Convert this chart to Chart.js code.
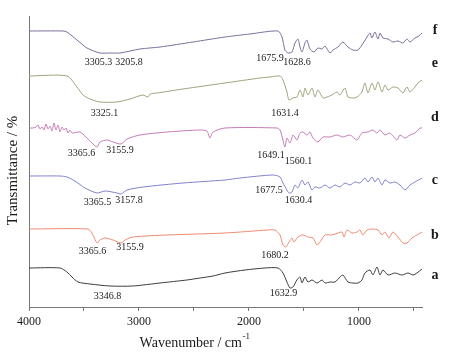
<!DOCTYPE html>
<html><head><meta charset="utf-8">
<script src="https://cdn.jsdelivr.net/npm/chart.js@4"></script>
<style>html,body{margin:0;padding:0;background:#fff}#wrap{width:450px;height:357px;position:relative}</style>
</head><body><div id="wrap"><canvas id="c"></canvas></div>
<script>
const seriesNames = ['a','b','c','d','e','f'];
const seriesColors = ['#3c3c3c','#ee8a70','#8080cc','#c47ab6','#9ea37c','#7d6e9c'];

const aWn = [4000,3718,3655,3609,3555,3445,3264,3055,2809,2564,2445,2327,2218,2036,1855,1736,1691,1655,1627,1600,1564,1536,1518,1491,1464,1427,1382,1336,1309,1264,1218,1173,1146,1100,1055,1009,973,946,900,873,836,809,782,736,673,609,555,509,473,427];
const aT  = [39,39,35,30,25,23,21,21,24,27,29,31,34,37,39,39,34,25,19,20,27,30,24,30,25,27,24,27,24,25,25,30,32,25,24,24,27,34,37,32,40,32,37,32,34,32,34,32,34,38];

const bWn = [4000,3464,3427,3382,3355,3309,3236,3164,3127,3055,2745,2218,1827,1764,1718,1691,1664,1636,1609,1591,1555,1509,1464,1418,1382,1355,1309,1246,1191,1155,1136,1109,1064,1018,991,964,927,873,827,791,764,727,691,645,600,564,518,473,427];
const bT  = [78,78,74,64,67,69,67,64,67,70,72,74,77,77,72,62,60,65,69,65,70,72,70,69,62,65,72,72,74,75,70,77,74,75,77,72,77,78,77,72,75,69,75,70,64,64,69,72,75];

const cWn = [4000,3718,3655,3582,3491,3382,3309,3200,3164,3109,2964,2600,2218,2082,1782,1718,1691,1655,1636,1609,1582,1555,1518,1491,1464,1427,1400,1355,1309,1264,1218,1173,1127,1082,1036,991,946,918,882,855,827,791,764,718,673,627,582,536,491,427];
const cT  = [131,131,130,126,119,114,116,114,113,117,120,124,127,129,132,130,124,117,114,115,122,119,127,122,125,117,120,119,122,119,122,120,124,122,125,124,129,125,130,125,129,122,127,124,125,122,117,122,125,129];

const dWn = [4000,3964,3936,3918,3900,3882,3864,3845,3827,3809,3791,3773,3755,3736,3718,3700,3682,3664,3645,3627,3609,3536,3455,3382,3355,3291,3236,3164,3109,2991,2745,2445,2382,2355,2327,2218,1745,1718,1691,1673,1655,1627,1600,1564,1536,1509,1473,1446,1418,1373,1327,1264,1200,1146,1082,1018,973,918,873,836,809,764,718,655,627,582,536,491,445,427];
const dT  = [179,179,180,182,178,180,177,183,178,181,176,184,177,182,175,180,177,179,174,177,174,175,167,160,165,167,165,163,168,172,175,177,176,169,175,179,179,177,167,160,169,164,172,167,174,175,172,175,169,165,170,170,172,170,172,167,174,175,177,174,177,172,174,167,172,169,172,174,179,179];

const eWn = [4000,3655,3564,3509,3445,3355,3200,3082,2964,2918,2900,2836,2600,2218,1900,1809,1718,1691,1655,1636,1600,1564,1536,1509,1491,1464,1427,1400,1373,1327,1291,1246,1200,1173,1127,1100,1055,1018,973,946,918,882,855,827,791,764,736,691,645,600,564,536,491,464,427];
const eT  = [231,231,220,212,208,205,205,208,212,210,213,214,218,224,229,230,231,227,215,207,209,210,217,210,219,212,219,210,217,209,210,212,215,212,219,210,209,210,215,224,214,224,217,225,215,222,217,220,219,214,220,215,220,224,227];

const fWn = [4000,3690,3655,3564,3473,3355,3264,3173,2991,2809,2509,2218,1991,1736,1700,1673,1645,1609,1582,1555,1536,1518,1491,1473,1446,1409,1373,1336,1309,1264,1236,1191,1146,1100,1055,1009,973,927,900,882,855,827,809,782,736,691,645,600,564,536,491,455,427];
const fT  = [276,276,275,267,259,254,254,254,258,260,265,270,273,276,270,257,254,255,264,268,260,255,264,267,258,255,259,258,261,254,257,260,265,260,257,257,262,270,274,269,275,268,274,269,268,265,266,264,268,265,269,271,274];

const xTickValues = [4000,3500,3000,2500,2000,1500,1000,500];
const xTickLabels = ['4000','','3000','','2000','','1000',''];

const peakText = ['3305.3','3205.8','1675.9','1628.6','3325.1','1631.4','3365.6','3155.9','1649.1','1560.1','3365.5','3157.8','1677.5','1630.4','3365.6','3155.9','1680.2','3346.8','1632.9'];
const peakWn   = [3368,3091,1809,1564,3314,1673,3523,3173,1800,1550,3377,3091,1818,1550,3423,3082,1764,3286,1687];
const peakT    = [245,245,249,245,194,194,154,157,152,146,105,107,117,107,56,60,52,11,14];

const nameWn = 309;
const nameT = [32,72,127,190,244,277];

const allWn = [aWn,bWn,cWn,dWn,eWn,fWn];
const allT = [aT,bT,cT,dT,eT,fT];

const SERIF = '"Liberation Serif","Times New Roman",serif';

const datasets = seriesNames.map((n,i)=>({
  label: n,
  data: allWn[i].map((w,j)=>({x:w, y:allT[i][j]})),
  borderColor: seriesColors[i],
  borderWidth: 1,
  pointRadius: 0,
  tension: 0.25,
  fill: false
}));

const textPlugin = {
  id: 'texts',
  afterDraw(chart){
    const {ctx, scales:{x,y}, chartArea} = chart;
    ctx.save();
    ctx.fillStyle = '#1a1a1a';
    ctx.textAlign = 'center';
    ctx.textBaseline = 'middle';
    ctx.font = '10px ' + SERIF;
    peakText.forEach((t,i)=>ctx.fillText(t, x.getPixelForValue(peakWn[i]), y.getPixelForValue(peakT[i])));
    ctx.font = 'bold 14px ' + SERIF;
    seriesNames.forEach((n,i)=>ctx.fillText(n, x.getPixelForValue(nameWn), y.getPixelForValue(nameT[i])));
    // x title
    ctx.font = '14px ' + SERIF;
    ctx.textAlign = 'left';
    const main = 'Wavenumber / cm';
    const w1 = ctx.measureText(main).width;
    ctx.font = '9px ' + SERIF;
    const sup = '-1';
    const w2 = ctx.measureText(sup).width;
    const cx = (chartArea.left + chartArea.right)/2 - 31;
    const sx = cx - (w1+w2)/2;
    ctx.font = '14px ' + SERIF;
    ctx.fillText(main, sx, 343);
    ctx.font = '9px ' + SERIF;
    ctx.fillText(sup, sx + w1 + 0.5, 337);
    // y title
    ctx.translate(13, (chartArea.top+chartArea.bottom)/2 + 9);
    ctx.rotate(-Math.PI/2);
    ctx.textAlign = 'center';
    ctx.font = '15px ' + SERIF;
    ctx.fillText('Transmittance / %', 0, 0);
    ctx.restore();
  }
};

new Chart(document.getElementById('c'), {
  type: 'line',
  data: { datasets },
  options: {
    responsive: true,
    maintainAspectRatio: false,
    animation: false,
    layout: { padding: { left: 29, top: 16, right: 28, bottom: 0 } },
    plugins: { legend: { display: false }, tooltip: { enabled: false } },
    scales: {
      x: {
        type: 'linear', reverse: true, min: 427, max: 4000,
        afterBuildTicks: ax => { ax.ticks = xTickValues.map(v=>({value:v})); },
        afterFit: s => { s.height = 50; },
        grid: { display: true, drawOnChartArea: false, drawTicks: true, tickLength: 4, color: '#777' },
        border: { display: true, color: '#777', width: 1 },
        ticks: {
          autoSkip: false, maxRotation: 0, padding: 4, color: '#1a1a1a',
          font: { family: SERIF, size: 12 },
          callback: (v, i) => xTickLabels[xTickValues.indexOf(v)]
        }
      },
      y: {
        min: 0, max: 291,
        afterFit: s => { s.width = 0; },
        ticks: { display: false },
        grid: { display: false },
        border: { display: true, color: '#777', width: 1 }
      }
    }
  },
  plugins: [textPlugin]
});
</script>
</body></html>
